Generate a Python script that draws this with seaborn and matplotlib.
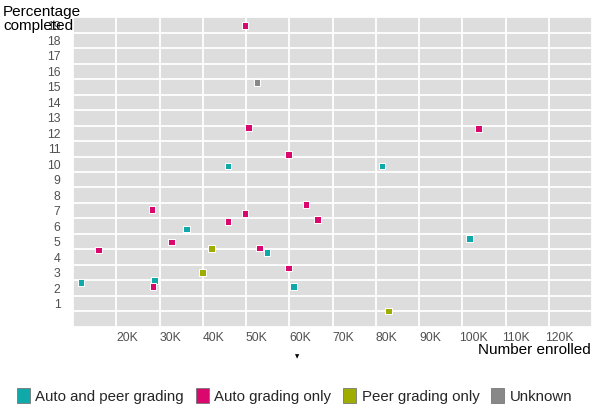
import pandas as pd
import matplotlib
matplotlib.use("Agg")
import matplotlib.pyplot as plt
from matplotlib.patches import Patch
import seaborn as sns

# data (enrolled in thousands, completion in %)
teal_x = [11.8, 28.9, 36.2, 45.8, 54.9, 61.0, 81.4, 101.7]
teal_y = [2.87, 3.0, 6.3, 10.39, 4.81, 2.59, 10.39, 5.71]

magenta_x = [28.3, 49.8, 45.8, 32.8, 15.9, 28.5, 49.8, 50.6, 59.8, 63.9, 66.5, 53.1, 59.8, 103.7]
magenta_y = [7.59, 7.33, 6.79, 5.48, 4.96, 2.59, 19.48, 12.89, 11.12, 7.89, 6.92, 5.09, 3.78, 12.82]

olive_x = [42.0, 39.9, 82.9]
olive_y = [5.07, 3.52, 1.0]

gray_x = [52.5]
gray_y = [15.8]

categories = ["Auto and peer grading", "Auto grading only", "Peer grading only", "Unknown"]
colors = ["#10a9a9", "#d9076e", "#9ead00", "#888888"]

x_ticks = [20, 30, 40, 50, 60, 70, 80, 90, 100, 110, 120]
y_ticks = list(range(1, 20))

# build one long table
df = pd.concat([
    pd.DataFrame({"enrolled": teal_x, "completed": teal_y, "type": categories[0]}),
    pd.DataFrame({"enrolled": magenta_x, "completed": magenta_y, "type": categories[1]}),
    pd.DataFrame({"enrolled": olive_x, "completed": olive_y, "type": categories[2]}),
    pd.DataFrame({"enrolled": gray_x, "completed": gray_y, "type": categories[3]}),
])

sns.set_style("white")
plt.rcParams["font.family"] = ["Liberation Sans", "DejaVu Sans"]

fig = plt.figure(figsize=(5.95, 4.11), dpi=100)
ax = fig.add_axes([73 / 595, 84.3 / 411, 519 / 595, 309.4 / 411])
ax.set_facecolor("#dddddd")

sns.scatterplot(data=df, x="enrolled", y="completed", hue="type",
                palette=dict(zip(categories, colors)), hue_order=categories,
                marker="s", s=22, edgecolor="white", linewidth=0.7,
                legend=False, ax=ax, zorder=3)

ax.set_xlim(10, 130)
ax.set_ylim(0, 20)

# gridlines on round values, labels sit beside them
ax.set_xticks(range(10, 131, 10))
ax.set_yticks(range(0, 21))
ax.set_xticklabels([])
ax.set_yticklabels([])
ax.tick_params(which="major", length=0)
ax.grid(True, which="major", color="white", linewidth=1.3)
ax.set_axisbelow(True)

ax.set_xticks([v + 2.5 for v in x_ticks], minor=True)
ax.set_xticklabels([f"{v}K" for v in x_ticks], minor=True)
ax.set_yticks([v + 0.5 for v in y_ticks], minor=True)
ax.set_yticklabels([str(v) for v in y_ticks], minor=True)
ax.tick_params(which="minor", length=0, labelsize=8.8, labelcolor="#505050")
ax.tick_params(axis="x", which="minor", pad=4)
ax.tick_params(axis="y", which="minor", pad=9)

for s in ax.spines.values():
    s.set_visible(False)
ax.set_xlabel("")
ax.set_ylabel("")

fig.text(3 / 595, 1 - 5 / 411, "Percentage\ncompleted", ha="left", va="top",
         fontsize=11, color="black", linespacing=1.0)
fig.text(591 / 595, 1 - 350 / 411, "Number enrolled", ha="right", va="center",
         fontsize=11, color="black")
fig.text(297 / 595, 1 - 357 / 411, "▼", ha="center", va="center",
         fontsize=4, color="black", family="DejaVu Sans")

handles = [Patch(facecolor=c, edgecolor="#777777", linewidth=0.6) for c in colors]
fig.legend(handles, categories, loc="center left",
           bbox_to_anchor=(17 / 595, 15 / 411), ncol=4, frameon=False,
           fontsize=10.8, handlelength=0.87, handleheight=1.07,
           handletextpad=0.35, columnspacing=0.8, borderpad=0, borderaxespad=0)

fig.savefig("out.png", dpi=100)
